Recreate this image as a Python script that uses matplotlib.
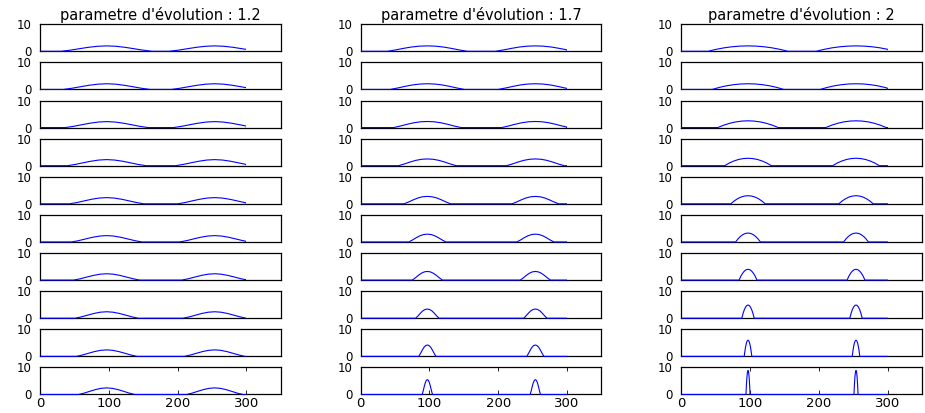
import matplotlib
matplotlib.use("Agg")
import matplotlib.pyplot as plt
from matplotlib.patches import Rectangle

# evolution parameter of each column
params = ["1.2", "1.7", "2"]
centres = [97, 254]
x_end = 300

# half profile of one bump, from the top (s=0) to the foot (s=1)
s_half = [0, 0.2, 0.4, 0.6, 0.8, 1.0]
shape_12 = [1, 0.93, 0.74, 0.48, 0.21, 0]
shape_17 = [1, 0.95, 0.79, 0.54, 0.25, 0]
shape_2 = [1, 0.96, 0.84, 0.64, 0.36, 0]

# bump height and half width, top row to bottom row
heights_12 = [2.0, 2.1, 2.2, 2.25, 2.3, 2.35, 2.35, 2.4, 2.4, 2.45]
widths_12 = [66, 63, 60, 57, 54, 51, 48, 46, 44, 41]
heights_17 = [2.0, 2.1, 2.25, 2.5, 2.75, 2.9, 3.2, 3.4, 4.2, 5.5]
widths_17 = [58, 54, 49, 42, 34, 27, 22, 17, 12.5, 7.5]
heights_2 = [2.0, 2.1, 2.5, 2.75, 3.0, 3.3, 4.0, 4.9, 6.0, 8.9]
widths_2 = [58, 52, 44, 34, 25, 18, 13, 9, 5.5, 3]

columns = [
    (shape_12, heights_12, widths_12),
    (shape_17, heights_17, widths_17),
    (shape_2, heights_2, widths_2),
]

plt.rcParams["font.family"] = ["DejaVu Sans"]

fig, axes = plt.subplots(
    10, 3, figsize=(9.25, 4.13), dpi=100,
    gridspec_kw=dict(left=0.0432, right=0.9968, top=0.9412, bottom=0.0448,
                     wspace=0.332, hspace=0.412))

s_full = [-s for s in reversed(s_half)] + s_half[1:]

for j, (shape, heights, widths) in enumerate(columns):
    v_full = list(reversed(shape)) + shape[1:]
    for i in range(10):
        ax = axes[i, j]
        xs, ys = [0], [0]
        for c in centres:
            for s, v in zip(s_full, v_full):
                xs.append(c + s * widths[i])
                ys.append(v * heights[i])
        xs.append(x_end)
        ys.append(0)
        line, = ax.plot(xs, ys, color="#0000ff", lw=0.8, zorder=3)
        line.set_clip_path(Rectangle((0, -1), x_end, 12, transform=ax.transData))

        ax.set_xlim(0, 350)
        ax.set_ylim(0, 10)
        ax.set_yticks([0, 10])
        ax.tick_params(direction="in", length=3, width=0.6, pad=6,
                       top=True, right=True, labelsize=8.5)
        if i < 9:
            ax.set_xticks([])
        else:
            ax.set_xticks([0, 100, 200, 300])
            ax.tick_params(axis="x", pad=2, labelsize=9.5)
        for sp in ax.spines.values():
            sp.set_linewidth(0.9)
        if i == 0:
            ax.set_title("parametre d'évolution : " + params[j], fontsize=10.5, pad=3)

fig.savefig("out.png", dpi=100)
